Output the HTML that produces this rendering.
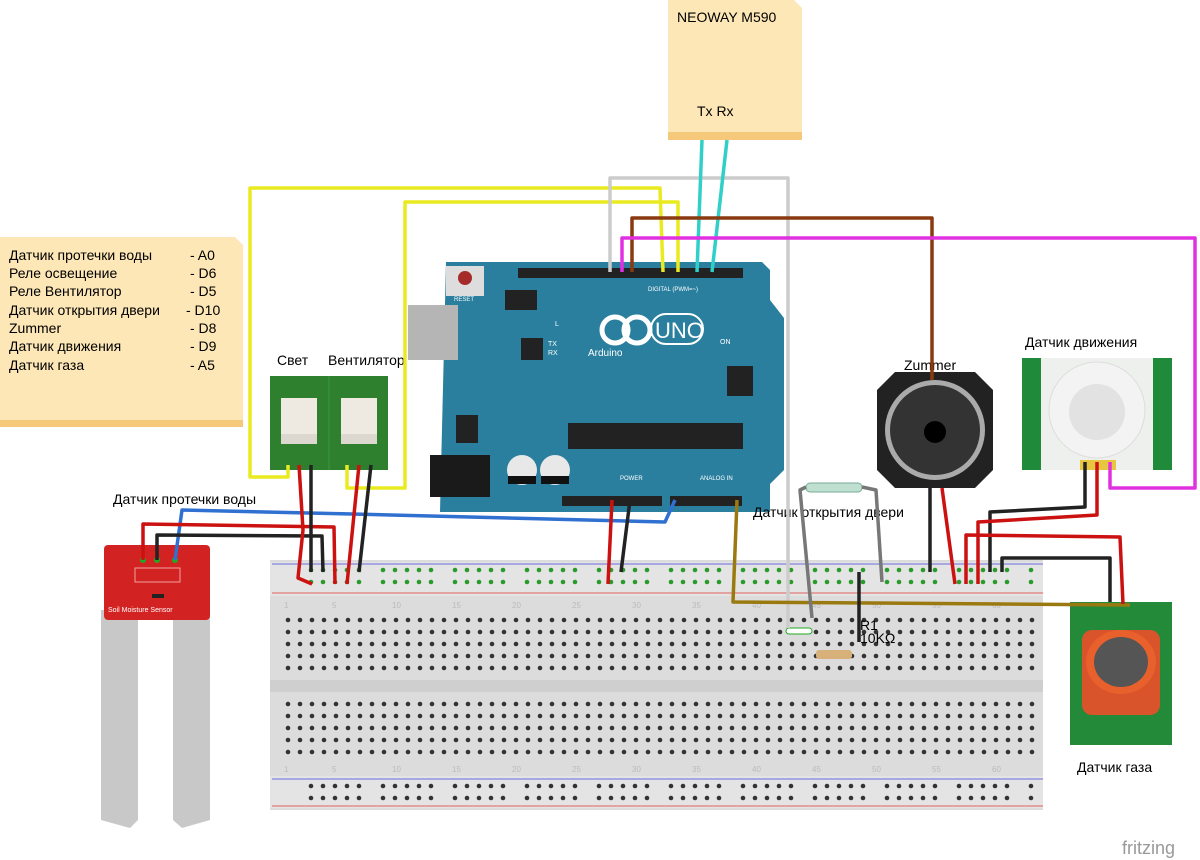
<!DOCTYPE html>
<html><head><meta charset="utf-8"><style>
body{margin:0;background:#fff;width:1200px;height:860px;overflow:hidden}
svg{display:block}
text{font-family:"Liberation Sans","DejaVu Sans",sans-serif}
</style></head><body>
<svg width="1200" height="860" viewBox="0 0 1200 860" xmlns="http://www.w3.org/2000/svg">
<defs>
<pattern id="h" x="282" y="614" width="12" height="12" patternUnits="userSpaceOnUse"><circle cx="6" cy="6" r="2.3" fill="#333"/></pattern>
<pattern id="r" x="305" y="0" width="72" height="12" patternUnits="userSpaceOnUse"><circle cx="6" cy="6" r="2.3" fill="#333"/><circle cx="18" cy="6" r="2.3" fill="#333"/><circle cx="30" cy="6" r="2.3" fill="#333"/><circle cx="42" cy="6" r="2.3" fill="#333"/><circle cx="54" cy="6" r="2.3" fill="#333"/></pattern>
<pattern id="rg" x="305" y="0" width="72" height="12" patternUnits="userSpaceOnUse"><circle cx="6" cy="6" r="2.3" fill="#2a9a2a"/><circle cx="18" cy="6" r="2.3" fill="#2a9a2a"/><circle cx="30" cy="6" r="2.3" fill="#2a9a2a"/><circle cx="42" cy="6" r="2.3" fill="#2a9a2a"/><circle cx="54" cy="6" r="2.3" fill="#2a9a2a"/></pattern>
</defs>
<!-- notes -->
<path d="M668 0H794L802 8V140H668Z" fill="#fde7b6"/>
<rect x="668" y="132" width="134" height="8" fill="#f6c97a"/>
<text x="677" y="22" font-size="14">NEOWAY M590</text>
<text x="697" y="116" font-size="14">Tx Rx</text>
<path d="M0 237H235L243 245V427H0Z" fill="#fde7b6"/>
<rect x="0" y="420" width="243" height="7" fill="#f6c97a"/>
<g font-size="14"><text x="9" y="260">Датчик протечки воды</text><text x="190" y="260">- A0</text>
<text x="9" y="278">Реле освещение</text><text x="190" y="278">- D6</text>
<text x="9" y="296">Реле Вентилятор</text><text x="190" y="296">- D5</text>
<text x="9" y="315">Датчик открытия двери</text><text x="186" y="315">- D10</text>
<text x="9" y="333">Zummer</text><text x="190" y="333">- D8</text>
<text x="9" y="351">Датчик движения</text><text x="190" y="351">- D9</text>
<text x="9" y="370">Датчик газа</text><text x="190" y="370">- A5</text></g>
<!-- breadboard -->
<rect x="270" y="560" width="773" height="250" fill="#dcdcdc"/>
<rect x="270" y="562" width="773" height="34" fill="#e4e4e4"/>
<rect x="270" y="776" width="773" height="32" fill="#e4e4e4"/>
<line x1="272" y1="564" x2="1043" y2="564" stroke="#6a6ae0"/>
<line x1="272" y1="593" x2="1043" y2="593" stroke="#e06060"/>
<line x1="272" y1="779" x2="1043" y2="779" stroke="#6a6ae0"/>
<line x1="272" y1="806" x2="1043" y2="806" stroke="#e06060"/>
<rect x="270" y="680" width="773" height="12" fill="#cfcfcf"/>
<rect x="282" y="614" width="756" height="60" fill="url(#h)"/>
<rect x="282" y="698" width="756" height="60" fill="url(#h)"/>
<rect x="305" y="566" width="730" height="24" fill="url(#rg)"/>
<rect x="305" y="780" width="730" height="24" fill="url(#r)"/>
<g font-size="8" fill="#bbb"><text x="284" y="608">1</text><text x="332" y="608">5</text><text x="392" y="608">10</text><text x="452" y="608">15</text><text x="512" y="608">20</text><text x="572" y="608">25</text><text x="632" y="608">30</text><text x="692" y="608">35</text><text x="752" y="608">40</text><text x="812" y="608">45</text><text x="872" y="608">50</text><text x="932" y="608">55</text><text x="992" y="608">60</text>
<text x="284" y="772">1</text><text x="332" y="772">5</text><text x="392" y="772">10</text><text x="452" y="772">15</text><text x="512" y="772">20</text><text x="572" y="772">25</text><text x="632" y="772">30</text><text x="692" y="772">35</text><text x="752" y="772">40</text><text x="812" y="772">45</text><text x="872" y="772">50</text><text x="932" y="772">55</text><text x="992" y="772">60</text></g>
<!-- arduino -->
<path d="M446 262H762L770 270V300L784 318V470L770 484V512H440Z" fill="#2a7f9e"/>
<rect x="408" y="305" width="50" height="55" fill="#b5b5b5"/>
<rect x="430" y="455" width="60" height="42" fill="#1a1a1a"/>
<rect x="446" y="266" width="38" height="30" fill="#ddd"/><circle cx="465" cy="278" r="7" fill="#a52a2a"/>
<text x="454" y="301" font-size="6" fill="#fff">RESET</text>
<rect x="518" y="268" width="215" height="10" fill="#222"/><rect x="648" y="268" width="95" height="10" fill="#222"/>
<rect x="505" y="290" width="32" height="20" fill="#222"/>
<rect x="521" y="338" width="22" height="22" fill="#222"/>
<rect x="568" y="423" width="175" height="26" fill="#222"/>
<rect x="456" y="415" width="22" height="28" fill="#222"/>
<rect x="562" y="496" width="100" height="10" fill="#222"/><rect x="670" y="496" width="72" height="10" fill="#222"/>
<rect x="727" y="366" width="26" height="30" fill="#222"/>
<circle cx="522" cy="470" r="15" fill="#e8e8e8"/><circle cx="555" cy="470" r="15" fill="#e8e8e8"/>
<rect x="508" y="476" width="28" height="8" fill="#111"/><rect x="541" y="476" width="28" height="8" fill="#111"/>
<circle cx="615" cy="330" r="13" fill="none" stroke="#fff" stroke-width="5"/><circle cx="637" cy="330" r="13" fill="none" stroke="#fff" stroke-width="5"/>
<rect x="651" y="314" width="52" height="30" rx="15" fill="none" stroke="#fff" stroke-width="2"/>
<text x="655" y="338" font-size="22" fill="#fff">UNO</text>
<text x="588" y="356" font-size="10" fill="#fff">Arduino</text>
<text x="648" y="291" font-size="6" fill="#fff">DIGITAL (PWM=~)</text>
<text x="555" y="326" font-size="7" fill="#fff">L</text><text x="548" y="346" font-size="7" fill="#fff">TX</text><text x="548" y="355" font-size="7" fill="#fff">RX</text>
<text x="720" y="344" font-size="7" fill="#fff">ON</text>
<text x="700" y="480" font-size="6" fill="#fff">ANALOG IN</text><text x="620" y="480" font-size="6" fill="#fff">POWER</text>
<!-- relays -->
<rect x="270" y="376" width="118" height="94" fill="#2e7f2e"/>
<line x1="329" y1="376" x2="329" y2="470" stroke="#3a9a3a"/>
<rect x="281" y="398" width="36" height="36" fill="#eeeae2"/><rect x="341" y="398" width="36" height="36" fill="#eeeae2"/>
<rect x="281" y="434" width="36" height="10" fill="#dcd8d0"/><rect x="341" y="434" width="36" height="10" fill="#dcd8d0"/>
<text x="277" y="365" font-size="14">Свет</text><text x="328" y="365" font-size="14">Вентилятор</text>
<!-- soil -->
<text x="113" y="504" font-size="14">Датчик протечки воды</text>
<path d="M101 610H138V820L130 828L101 820Z" fill="#c8c8c8"/>
<path d="M173 610H210V820L182 828L173 820Z" fill="#c8c8c8"/>
<rect x="104" y="545" width="106" height="75" rx="4" fill="#d32222"/>
<rect x="135" y="568" width="45" height="14" fill="none" stroke="#f0a0a0"/>
<circle cx="143" cy="560" r="3" fill="#2a2"/><circle cx="157" cy="560" r="3" fill="#2a2"/><circle cx="175" cy="560" r="3" fill="#2a2"/>
<rect x="152" y="594" width="12" height="4" fill="#222"/>
<text x="108" y="612" font-size="7" fill="#fff">Soil Moisture Sensor</text>
<!-- speaker -->
<path d="M895 372H975L993 390V470L975 488H895L877 470V390Z" fill="#222"/>
<circle cx="935" cy="430" r="50" fill="#aaa"/><circle cx="935" cy="430" r="45" fill="#333"/><circle cx="935" cy="432" r="11" fill="#000"/>
<text x="904" y="370" font-size="14">Zummer</text>
<!-- PIR -->
<text x="1025" y="347" font-size="14">Датчик движения</text>
<rect x="1022" y="358" width="150" height="112" fill="#1f8a3a"/>
<rect x="1041" y="358" width="112" height="112" fill="#eef0ee"/>
<circle cx="1097" cy="410" r="48" fill="#f3f3f3" stroke="#ddd"/>
<circle cx="1097" cy="412" r="28" fill="#e2e2e2"/>
<rect x="1080" y="460" width="36" height="10" fill="#e9c640"/>
<!-- gas -->
<rect x="1070" y="602" width="102" height="143" fill="#238a3a"/>
<rect x="1082" y="630" width="78" height="85" rx="10" fill="#d9542a"/>
<ellipse cx="1121" cy="662" rx="35" ry="32" fill="#e8602c"/>
<ellipse cx="1121" cy="662" rx="27" ry="25" fill="#555"/>
<text x="1077" y="772" font-size="14">Датчик газа</text>
<!-- reed + resistor -->
<text x="753" y="517" font-size="14">Датчик открытия двери</text>
<rect x="806" y="483" width="56" height="9" rx="4" fill="#bfe0d0" stroke="#7a9"/>
<rect x="786" y="628" width="26" height="6" rx="3" fill="#fff" stroke="#2a2"/>
<rect x="816" y="650" width="36" height="9" rx="3" fill="#d8b07a"/>
<text x="860" y="630" font-size="14">R1</text><text x="860" y="643" font-size="14">10KΩ</text>
<!-- wires -->
<g fill="none" stroke-width="3.5" stroke-linejoin="round">
<polyline stroke="#eaea20" points="288,465 288,477 250,477 250,188 660,188 663,272"/>
<polyline stroke="#eaea20" points="347,465 347,488 405,488 405,202 678,202 678,272"/>
<polyline stroke="#cccccc" points="610,272 610,178 788,178 788,628"/>
<polyline stroke="#30d0c8" points="702,140 697,272"/>
<polyline stroke="#30d0c8" points="727,140 712,272"/>
<polyline stroke="#8a3a10" points="632,272 632,218 932,218 932,380"/>
<polyline stroke="#e030e0" points="622,272 622,238 1195,238 1195,488 1110,488 1110,462"/>
<polyline stroke="#3070d0" points="675,500 665,522 352,514 182,510 175,560"/>
<polyline stroke="#9a7a10" points="737,500 733,602 1130,605"/>
<polyline stroke="#777" points="806,487 800,490 812,618"/>
<polyline stroke="#777" points="862,487 876,490 882,582"/>
<polyline stroke="#222" points="859,572 859,642"/>
<polyline stroke="#cc1111" points="143,560 143,524 334,527 335,584"/>
<polyline stroke="#222" points="157,560 157,535 322,536 323,572"/>
<polyline stroke="#cc1111" points="299,465 303,530 298,578 312,584"/>
<polyline stroke="#222" points="311,465 311,572"/>
<polyline stroke="#cc1111" points="359,465 347,584"/>
<polyline stroke="#222" points="371,465 359,572"/>
<polyline stroke="#cc1111" points="612,500 608,584"/>
<polyline stroke="#222" points="630,500 621,572"/>
<polyline stroke="#222" points="930,488 930,572"/>
<polyline stroke="#cc1111" points="942,488 955,584"/>
<polyline stroke="#222" points="1085,462 1085,507 990,512 990,572"/>
<polyline stroke="#cc1111" points="1097,462 1097,515 978,522 978,584"/>
<polyline stroke="#cc1111" points="966,584 966,535 1120,537 1123,604"/>
<polyline stroke="#222" points="1002,572 1002,558 1110,558 1110,602"/>
</g>
<text x="1122" y="854" font-size="18" fill="#999">fritzing</text>
</svg>
</body></html>
